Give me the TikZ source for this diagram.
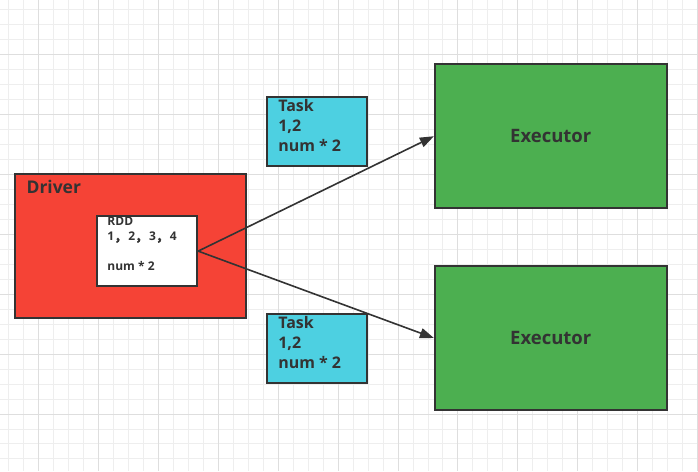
\documentclass[tikz,border=0pt]{standalone}
\usepackage{fontspec}
\setmainfont{Open Sans}
\newfontfamily\cjk{Noto Sans CJK SC}[FakeBold=2.5]
\usepackage{xcolor}
\usetikzlibrary{arrows.meta, positioning}
\definecolor{drvred}{HTML}{F54336}
\definecolor{taskcyan}{HTML}{4DD0E1}
\definecolor{execgreen}{HTML}{4CAF50}
\definecolor{ink}{HTML}{333333}
\definecolor{gridminor}{HTML}{EEEEEE}
\definecolor{gridmajor}{HTML}{DEDEDE}

\begin{document}
\begin{tikzpicture}[
    x=1pt, y=-1pt,
    box/.style={rectangle, draw=ink, line width=2pt, text=ink, font=\bfseries},
    driverbox/.style={box, fill=drvred, minimum width=231pt, minimum height=144pt},
    rddbox/.style={box, fill=white, minimum width=100pt, minimum height=70pt},
    taskbox/.style={box, fill=taskcyan, minimum width=100pt, minimum height=69pt},
    tasktext/.style={anchor=north west, text=ink, inner sep=0pt, align=left, font=\bfseries\fontsize{16}{20}\selectfont},
    execbox/.style={box, fill=execgreen, minimum width=232pt, minimum height=144pt, font=\bfseries\fontsize{18.5}{22}\selectfont},
    arrow/.style={-{Triangle[length=14pt, width=10pt]}, line width=1.6pt, draw=ink}
]
% background grid
\fill[white] (0,0) rectangle (698,471);
\foreach \gx in {8,23,...,698} \draw[gridminor, line width=0.8pt] (\gx,0) -- (\gx,471);
\foreach \gy in {9,24,...,471} \draw[gridminor, line width=0.8pt] (0,\gy) -- (698,\gy);
\foreach \gx in {38,98,...,698} \draw[gridmajor, line width=0.8pt] (\gx,0) -- (\gx,471);
\foreach \gy in {54,114,...,471} \draw[gridmajor, line width=0.8pt] (0,\gy) -- (698,\gy);
\useasboundingbox (0,0) rectangle (698,471);

\node (driver) [driverbox] at (130.5,246) {};
\node (drivertitle) [anchor=base west, text=ink, inner sep=0pt, font=\bfseries\fontsize{17.5}{20}\selectfont] at (26,193) {Driver};
\node (rdd) [rddbox] at (147,251) {};
\node (rddtext) [anchor=north west, text=ink, inner sep=0pt, align=left, font=\bfseries\fontsize{12}{15}\selectfont] at (107,217) {RDD\\1{\cjk，}\,2{\cjk，}\,3{\cjk，}\,4\\[15pt]num * 2};

\node (task1) [taskbox] at (317,131.5) {};
\node (task1text) [tasktext] at (278,99) {Task\\1,2\\num * 2};
\node (task2) [taskbox] at (317,348.5) {};
\node (task2text) [tasktext] at (278,316) {Task\\1,2\\num * 2};

\node (exec1) [execbox] at (551,136) {Executor};
\node (exec2) [execbox] at (551,338) {Executor};

\draw [arrow] (rdd.east) -- (exec1.west);
\draw [arrow] (rdd.east) -- (exec2.west);
\end{tikzpicture}
\end{document}
